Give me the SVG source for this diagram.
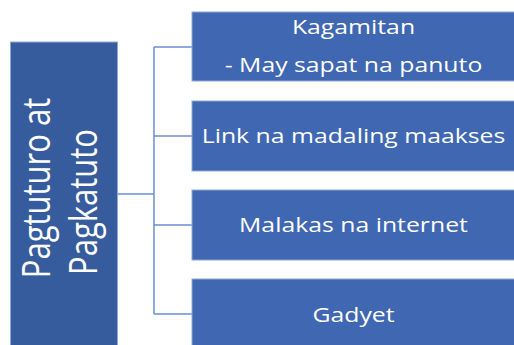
<svg xmlns="http://www.w3.org/2000/svg" width="514" height="345" viewBox="0 0 514 345">
<style>
.root{fill:#365C9D;stroke:#8FA9D8;stroke-width:1}
.box{fill:#3F67B2;stroke:#8FA9D8;stroke-width:1}
.t{font-family:"Open Sans","Noto Sans",sans-serif;fill:#FFFFFF;text-anchor:middle}
.s{font-size:20px}
.l{font-size:31px}
.c{fill:none;stroke:#6E8ED3;stroke-width:1.5}
</style>
<rect width="514" height="345" fill="#FFFFFF"/>
<g id="connectors">
<path class="c" d="M117 194H154M154 47V314M154 47H192M154 136H192M154 225H192M154 314H192"/>
</g>
<g id="root">
<rect class="root" x="10.5" y="42" width="107" height="310"/>
<text class="t l" transform="translate(50,188) scale(1.24,1) rotate(-90)">Pagtuturo at</text>
<text class="t l" transform="translate(97,202) scale(1.24,1) rotate(-90)">Pagkatuto</text>
</g>
<g id="n1">
<rect class="box" x="192" y="12" width="330" height="69"/>
<text class="t s" transform="translate(353.5,34) scale(1.24,1)">Kagamitan</text>
<text class="t s" transform="translate(353.5,72) scale(1.24,1)">- May sapat na panuto</text>
</g>
<g id="n2">
<rect class="box" x="192" y="101" width="330" height="70"/>
<text class="t s" transform="translate(353.5,143) scale(1.24,1)">Link na madaling maakses</text>
</g>
<g id="n3">
<rect class="box" x="192" y="190" width="330" height="70"/>
<text class="t s" transform="translate(353.5,232) scale(1.24,1)">Malakas na internet</text>
</g>
<g id="n4">
<rect class="box" x="192" y="279" width="330" height="80"/>
<text class="t s" transform="translate(353.5,322) scale(1.24,1)">Gadyet</text>
</g>
</svg>
